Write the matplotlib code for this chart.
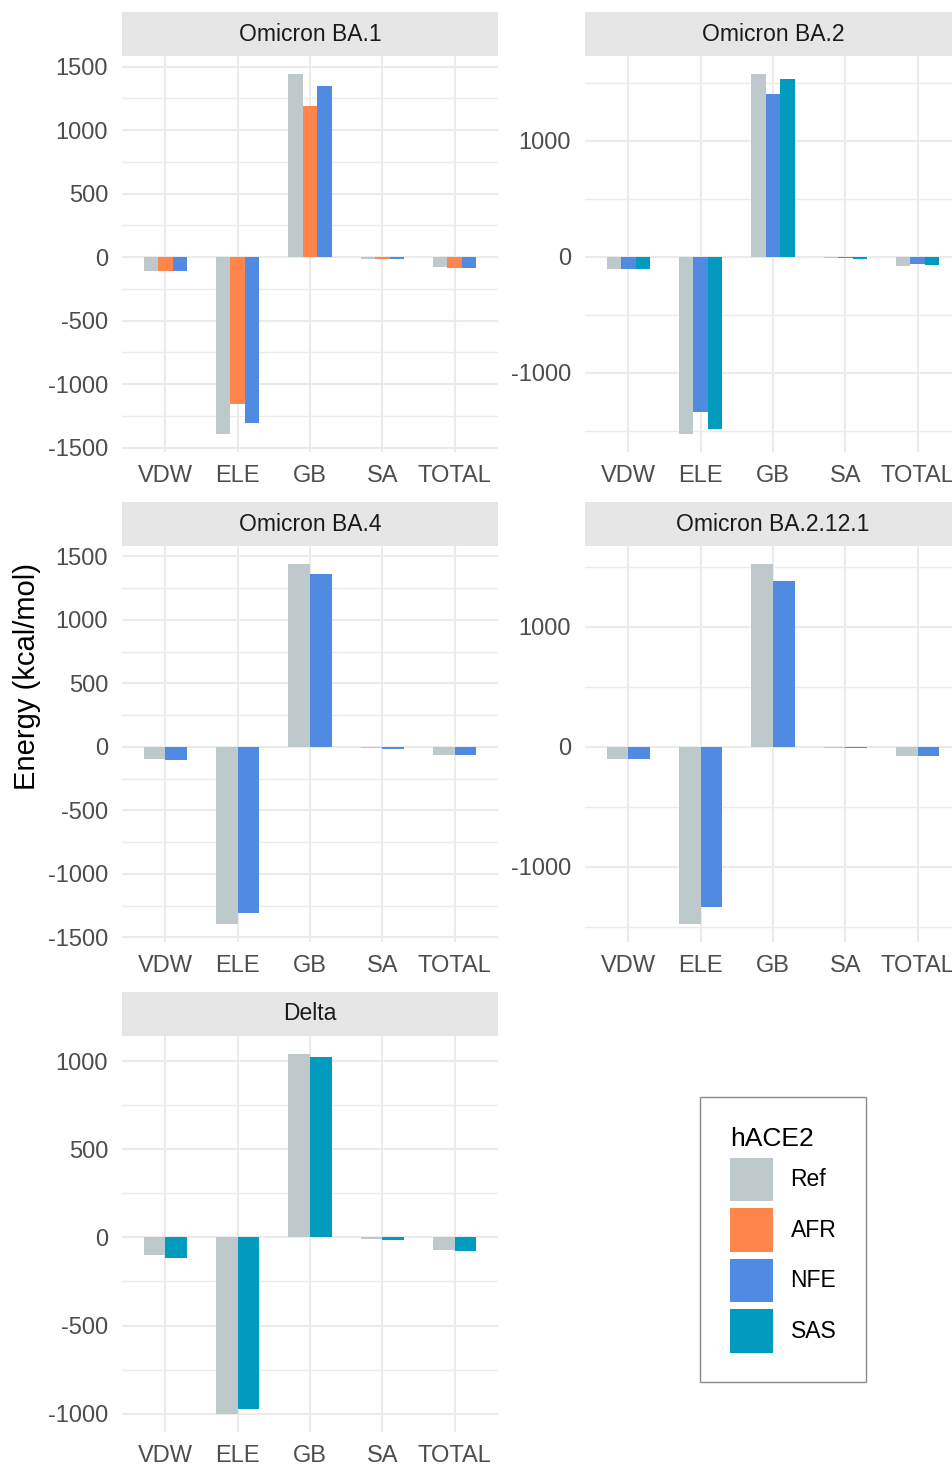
import numpy as np
import matplotlib as mpl
mpl.use('Agg')
import matplotlib.pyplot as plt
from matplotlib.patches import Rectangle, Patch
from matplotlib.ticker import MultipleLocator

plt.rcParams['font.family'] = ['Liberation Sans', 'DejaVu Sans']
plt.rcParams['axes.unicode_minus'] = False

terms = ['VDW', 'ELE', 'GB', 'SA', 'TOTAL']
variants = ['Ref', 'AFR', 'NFE', 'SAS']
colors = {'Ref': '#BDC9CA', 'AFR': '#FF854D', 'NFE': '#508AE2', 'SAS': '#009BBF'}

# binding energy components (kcal/mol)
ba1_ref = [-105, -1393, 1443, -11, -74]
ba1_afr = [-105, -1157, 1191, -13, -82]
ba1_nfe = [-108, -1306, 1350, -15, -82]

ba2_ref = [-101, -1528, 1578, -10, -75]
ba2_nfe = [-101, -1339, 1402, -12, -60]
ba2_sas = [-106, -1483, 1534, -14, -72]

ba4_ref = [-97, -1395, 1440, -10, -68]
ba4_nfe = [-102, -1312, 1362, -13, -68]

ba2121_ref = [-103, -1477, 1525, -10, -75]
ba2121_nfe = [-100, -1339, 1380, -13, -72]

delta_ref = [-98, -1002, 1041, -11, -70]
delta_sas = [-115, -971, 1024, -17, -76]

panels = [
    ('Omicron BA.1', {'Ref': ba1_ref, 'AFR': ba1_afr, 'NFE': ba1_nfe}, 500),
    ('Omicron BA.2', {'Ref': ba2_ref, 'NFE': ba2_nfe, 'SAS': ba2_sas}, 1000),
    ('Omicron BA.4', {'Ref': ba4_ref, 'NFE': ba4_nfe}, 500),
    ('Omicron BA.2.12.1', {'Ref': ba2121_ref, 'NFE': ba2121_nfe}, 1000),
    ('Delta', {'Ref': delta_ref, 'SAS': delta_sas}, 500),
]

W, H = 952, 1465
fig = plt.figure(figsize=(W / 100, H / 100), dpi=100)

col_x = [122, 585]
row_top = [56, 546, 1036]
pw, ph = 376, 396
strip_h = 44
grid_col = '#EBEBEB'

for k, (title, series, step) in enumerate(panels):
    r, c = divmod(k, 2)
    x0, y0 = col_x[c], row_top[r]
    ax = fig.add_axes([x0 / W, 1 - (y0 + ph) / H, pw / W, ph / H])

    x = np.arange(len(terms))
    n = len(series)
    bw = 0.6 / n
    allv = []
    for i, (name, vals) in enumerate(series.items()):
        ax.bar(x - 0.3 + (i + 0.5) * bw, vals, width=bw, color=colors[name],
               linewidth=0, zorder=3)
        allv += vals
    lo, hi = min(allv), max(allv)
    pad = 0.05 * (hi - lo)
    ax.set_ylim(lo - pad, hi + pad)
    ax.set_xlim(-0.6, len(terms) - 0.4)

    ax.set_xticks(x)
    ax.set_xticklabels(terms)
    ax.yaxis.set_major_locator(MultipleLocator(step))
    ax.yaxis.set_minor_locator(MultipleLocator(step / 2))
    ax.grid(which='major', color=grid_col, linewidth=1.5, zorder=0)
    ax.grid(which='minor', axis='y', color=grid_col, linewidth=1.0, zorder=0)
    ax.set_axisbelow(True)
    ax.tick_params(which='both', length=0, labelsize=17, colors='#4D4D4D')
    ax.tick_params(axis='y', pad=10)
    ax.tick_params(axis='x', pad=9)
    for s in ax.spines.values():
        s.set_visible(False)

    # facet strip
    sh = strip_h / ph
    ax.add_patch(Rectangle((0, 1), 1, sh, transform=ax.transAxes,
                           facecolor='#E6E6E6', edgecolor='none', clip_on=False))
    ax.text(0.5, 1 + sh / 2, title, transform=ax.transAxes, ha='center',
            va='center', fontsize=16.5, color='#1A1A1A')

fig.text(27 / W, 1 - 677 / H, 'Energy (kcal/mol)', rotation=90,
         ha='center', va='center', fontsize=21, color='black')

handles = [Patch(facecolor=colors[v], edgecolor='none', label=v) for v in variants]
leg = fig.legend(handles=handles, title='hACE2', loc='upper left',
                 bbox_to_anchor=(700 / W, 1 - 1097 / H), fontsize=16.5,
                 title_fontsize=19, handlelength=1.9, handleheight=2.55,
                 labelspacing=0.3, handletextpad=0.75, borderpad=1.3,
                 borderaxespad=0, fancybox=False, framealpha=1,
                 edgecolor='#888888', alignment='left')
leg.get_frame().set_linewidth(1.0)

fig.savefig('out.png', dpi=100)
